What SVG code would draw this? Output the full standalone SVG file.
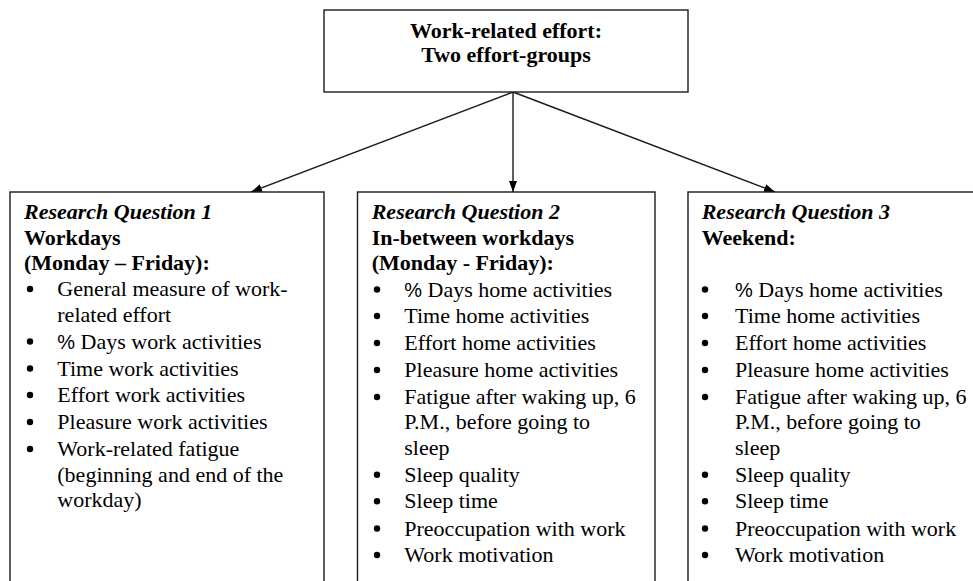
<svg xmlns="http://www.w3.org/2000/svg" width="973" height="581" viewBox="0 0 973 581">
<style>
text{font-size:22px;fill:#000}
.b{font-weight:bold}
.bi{font-weight:bold;font-style:italic}
.pct{font-family:'Liberation Sans',Arial,sans-serif;font-size:20px}
.box{fill:#fff;stroke:#1a1a1a;stroke-width:1.4}
.dot{fill:#000}
.conn{stroke:#1a1a1a;stroke-width:1.4;fill:none}
</style>
<defs>
<marker id="ah" markerUnits="userSpaceOnUse" markerWidth="12" markerHeight="10" refX="11" refY="4" orient="auto">
<path d="M0,0 L11,4 L0,8 Z" fill="#000"/>
</marker>
</defs>
<g id="connectors">
<line class="conn" x1="513" y1="92" x2="251" y2="192" marker-end="url(#ah)"/>
<line class="conn" x1="513" y1="92" x2="513" y2="192" marker-end="url(#ah)"/>
<line class="conn" x1="513" y1="92" x2="775" y2="192" marker-end="url(#ah)"/>
</g>
<g font-family="Liberation Serif, Times New Roman, serif">
<g id="top">
<rect class="box" x="324" y="10" width="364" height="82"/>
<text class="b" x="506" y="37.5" text-anchor="middle">Work-related effort:</text>
<text class="b" x="506" y="62" text-anchor="middle">Two effort-groups</text>
</g>
<g id="rq1">
<rect class="box" x="10" y="192" width="314" height="400"/>
<text class="bi" x="24" y="219">Research Question 1</text>
<text class="b" x="24" y="244.5">Workdays</text>
<text class="b" x="24" y="270">(Monday – Friday):</text>
<circle class="dot" cx="30" cy="289" r="3.2"/>
<text x="57.3" y="296">General measure of work-</text>
<text x="57.3" y="321.5">related effort</text>
<circle class="dot" cx="30" cy="341.5" r="3.2"/>
<text x="57.3" y="348.5"><tspan class="pct">%</tspan> Days work activities</text>
<circle class="dot" cx="30" cy="368.5" r="3.2"/>
<text x="57.3" y="375.5">Time work activities</text>
<circle class="dot" cx="30" cy="395" r="3.2"/>
<text x="57.3" y="402">Effort work activities</text>
<circle class="dot" cx="30" cy="422" r="3.2"/>
<text x="57.3" y="429">Pleasure work activities</text>
<circle class="dot" cx="30" cy="449" r="3.2"/>
<text x="57.3" y="456">Work-related fatigue</text>
<text x="57.3" y="481.5">(beginning and end of the</text>
<text x="57.3" y="507">workday)</text>
</g>
<g id="rq2">
<rect class="box" x="357.5" y="192" width="297.5" height="400"/>
<text class="bi" x="371.7" y="219">Research Question 2</text>
<text class="b" x="371.7" y="244.5">In-between workdays</text>
<text class="b" x="371.7" y="270">(Monday - Friday):</text>
<circle class="dot" cx="377" cy="289.5" r="3.2"/>
<text x="404.3" y="296.5"><tspan class="pct">%</tspan> Days home activities</text>
<circle class="dot" cx="377" cy="316" r="3.2"/>
<text x="404.3" y="323">Time home activities</text>
<circle class="dot" cx="377" cy="343" r="3.2"/>
<text x="404.3" y="350">Effort home activities</text>
<circle class="dot" cx="377" cy="370" r="3.2"/>
<text x="404.3" y="377">Pleasure home activities</text>
<circle class="dot" cx="377" cy="397" r="3.2"/>
<text x="404.3" y="404">Fatigue after waking up, 6</text>
<text x="404.3" y="429.3">P.M., before going to</text>
<text x="404.3" y="454.5">sleep</text>
<circle class="dot" cx="377" cy="474.7" r="3.2"/>
<text x="404.3" y="481.7">Sleep quality</text>
<circle class="dot" cx="377" cy="501.3" r="3.2"/>
<text x="404.3" y="508.3">Sleep time</text>
<circle class="dot" cx="377" cy="528.5" r="3.2"/>
<text x="404.3" y="535.5">Preoccupation with work</text>
<circle class="dot" cx="377" cy="555" r="3.2"/>
<text x="404.3" y="562">Work motivation</text>
</g>
<g id="rq3">
<rect class="box" x="688" y="192" width="310" height="400"/>
<text class="bi" x="701.7" y="219">Research Question 3</text>
<text class="b" x="701.7" y="244.5">Weekend:</text>
<circle class="dot" cx="705" cy="289.5" r="3.2"/>
<text x="735" y="296.5"><tspan class="pct">%</tspan> Days home activities</text>
<circle class="dot" cx="705" cy="316" r="3.2"/>
<text x="735" y="323">Time home activities</text>
<circle class="dot" cx="705" cy="343" r="3.2"/>
<text x="735" y="350">Effort home activities</text>
<circle class="dot" cx="705" cy="370" r="3.2"/>
<text x="735" y="377">Pleasure home activities</text>
<circle class="dot" cx="705" cy="397" r="3.2"/>
<text x="735" y="404">Fatigue after waking up, 6</text>
<text x="735" y="429.3">P.M., before going to</text>
<text x="735" y="454.5">sleep</text>
<circle class="dot" cx="705" cy="474.7" r="3.2"/>
<text x="735" y="481.7">Sleep quality</text>
<circle class="dot" cx="705" cy="501.3" r="3.2"/>
<text x="735" y="508.3">Sleep time</text>
<circle class="dot" cx="705" cy="528.5" r="3.2"/>
<text x="735" y="535.5">Preoccupation with work</text>
<circle class="dot" cx="705" cy="555" r="3.2"/>
<text x="735" y="562">Work motivation</text>
</g>
</g>
</svg>
